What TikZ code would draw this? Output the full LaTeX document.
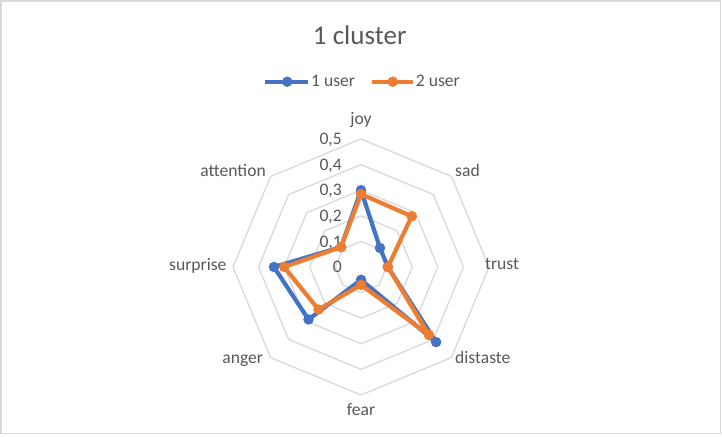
\documentclass[tikz,border=0pt]{standalone}
\usepackage{fontspec}
\setmainfont{Carlito}
\definecolor{gridc}{HTML}{D9D9D9}
\definecolor{txt}{HTML}{595959}
\definecolor{serA}{HTML}{4472C4}
\definecolor{serB}{HTML}{ED7D31}
\begin{document}
\begin{tikzpicture}[x=1pt,y=1pt,
  lbl/.style={text=txt,font=\fontsize{17.6}{20}\selectfont,inner sep=0pt},
  ttl/.style={text=txt,font=\fontsize{27}{30}\selectfont,inner sep=0pt},
  gridline/.style={draw=gridc,line width=1.3pt,line join=round},
  serline/.style={line width=4.2pt,line join=round,line cap=round},
  dot/.style={circle,inner sep=0pt,minimum size=10.5pt}]
\useasboundingbox (0,0) rectangle (722,436);
\fill[white] (0,0) rectangle (722,436);
\draw[draw=gridc,line width=1.5pt] (1,2.5) rectangle (720.5,435);
\coordinate (c) at (361,169);
% grid octagons
\foreach \k in {1,...,5}{
  \pgfmathsetmacro{\r}{\k*25.6}
  \draw[gridline,shift={(c)}] (90:\r) -- (45:\r) -- (0:\r) -- (-45:\r) -- (-90:\r) -- (-135:\r) -- (180:\r) -- (135:\r) -- cycle;
}
% tick labels
\foreach \k/\t in {0/0,1/{0,1},2/{0,2},3/{0,3},4/{0,4},5/{0,5}}{
  \node[lbl,anchor=base east] (tick\k) at (342,163.3+\k*25.6) {\t};
}
% category labels
\node[lbl,anchor=base] (joy) at (361,311) {joy};
\node[lbl,anchor=base west] (sad) at (455,259.3) {sad};
\node[lbl,anchor=base west] (trust) at (485,166) {trust};
\node[lbl,anchor=base west] (distaste) at (455,72) {distaste};
\node[lbl,anchor=base] (fear) at (361,20) {fear};
\node[lbl,anchor=base east] (anger) at (263.3,72) {anger};
\node[lbl,anchor=base east] (surprise) at (226.7,165.3) {surprise};
\node[lbl,anchor=base east] (attention) at (266,259.3) {attention};
% data points
\foreach \a/\v [count=\i] in {90/0.30,45/0.105,0/0.105,-45/0.415,-90/0.05,-135/0.29,180/0.34,135/0.11}{
  \coordinate (b\i) at ([shift={(\a:{\v*256})}]c);
}
\foreach \a/\v [count=\i] in {90/0.285,45/0.28,0/0.105,-45/0.375,-90/0.07,-135/0.235,180/0.30,135/0.11}{
  \coordinate (o\i) at ([shift={(\a:{\v*256})}]c);
}
\draw[serline,serA] (b1) -- (b2) -- (b3) -- (b4) -- (b5) -- (b6) -- (b7) -- (b8) -- cycle;
\foreach \i in {1,...,8} \node[dot,fill=serA] at (b\i) {};
\draw[serline,serB] (o1) -- (o2) -- (o3) -- (o4) -- (o5) -- (o6) -- (o7) -- (o8) -- cycle;
\foreach \i in {1,...,8} \node[dot,fill=serB] at (o\i) {};
% title
\node[ttl,anchor=base] (title) at (359.7,391) {1 cluster};
% legend
\coordinate (la1) at (265,354.3);
\coordinate (la2) at (308,354.3);
\draw[serline,serA,line cap=butt] (la1) -- (la2);
\node[dot,fill=serA] (lma) at (287.3,354.3) {};
\node[lbl,anchor=base west] (leg1) at (311,349) {1 user};
\coordinate (lb1) at (371.7,354.3);
\coordinate (lb2) at (413.3,354.3);
\draw[serline,serB,line cap=butt] (lb1) -- (lb2);
\node[dot,fill=serB] (lmb) at (392.7,354.3) {};
\node[lbl,anchor=base west] (leg2) at (415.7,349) {2 user};
\end{tikzpicture}
\end{document}
